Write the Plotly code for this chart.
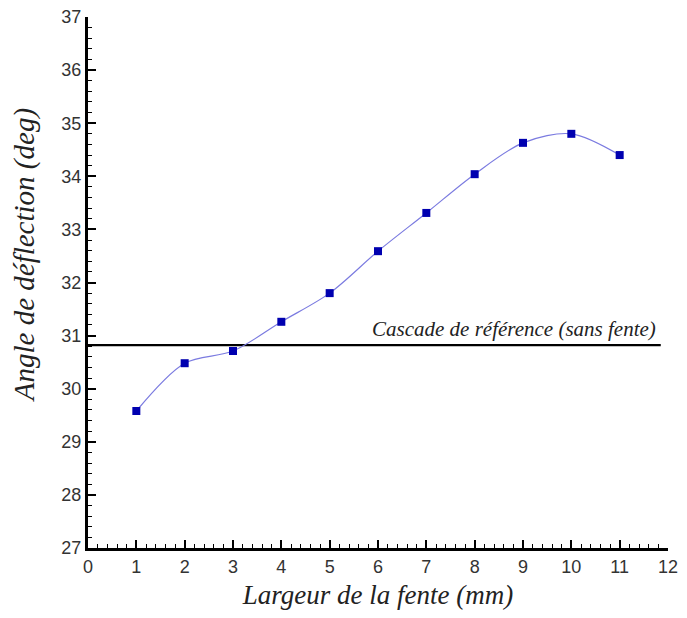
import plotly.graph_objects as go

largeur = [1, 2, 3, 4, 5, 6, 7, 8, 9, 10, 11]
angle = [29.58, 30.48, 30.71, 31.26, 31.80, 32.59, 33.31, 34.04, 34.63, 34.80, 34.40]
ref_x = [0, 11.85]
ref_angle = [30.82, 30.82]
ref_label = "Cascade de référence (sans fente)"
x_title = "Largeur de la fente (mm)"
y_title = "Angle de déflection (deg)"

fig = go.Figure()
fig.add_trace(go.Scatter(x=ref_x, y=ref_angle, mode="lines",
                         line=dict(color="black", width=2.2), showlegend=False))
fig.add_trace(go.Scatter(x=largeur, y=angle, mode="lines",
                         line=dict(color="#7b7be0", width=1.2, shape="spline", smoothing=0.9),
                         showlegend=False))
fig.add_trace(go.Scatter(x=largeur, y=angle, mode="markers",
                         marker=dict(symbol="square", size=8, color="#0000b0"),
                         showlegend=False))

fig.add_annotation(x=11.8, y=ref_angle[0], xref="x", yref="y", text="<i>" + ref_label + "</i>",
                   showarrow=False, xanchor="right", yanchor="bottom", yshift=2,
                   font=dict(family="Liberation Serif", size=21, color="#222"))

fig.add_annotation(x=-0.108, y=0.552, xref="paper", yref="paper", text="<i>" + y_title + "</i>",
                   showarrow=False, textangle=-90, xanchor="center", yanchor="middle",
                   font=dict(family="Liberation Serif", size=29, color="#222"))

axis_common = dict(showgrid=False, zeroline=False, showline=True, linecolor="black",
                   linewidth=3, ticks="inside", ticklen=8, tickwidth=2, tickcolor="black",
                   tickfont=dict(family="Liberation Sans", size=18, color="#333"),
                   mirror=False, automargin=False, ticklabeloverflow="allow")

fig.update_layout(
    width=679, height=610,
    margin=dict(l=80, r=19, t=9, b=70),
    plot_bgcolor="white", paper_bgcolor="white",
    xaxis=dict(range=[0, 12], dtick=1, tick0=0,
               minor=dict(ticks="inside", ticklen=4, dtick=0.2, tickcolor="black", tickwidth=1),
               title=dict(text="<i>" + x_title + "</i>",
                          font=dict(family="Liberation Serif", size=27, color="#222"), standoff=10),
               **axis_common),
    yaxis=dict(range=[27, 37], dtick=1, tick0=27,
               minor=dict(ticks="inside", ticklen=4, dtick=0.2, tickcolor="black", tickwidth=1),
               **axis_common),
)

fig.write_html("out.html")
